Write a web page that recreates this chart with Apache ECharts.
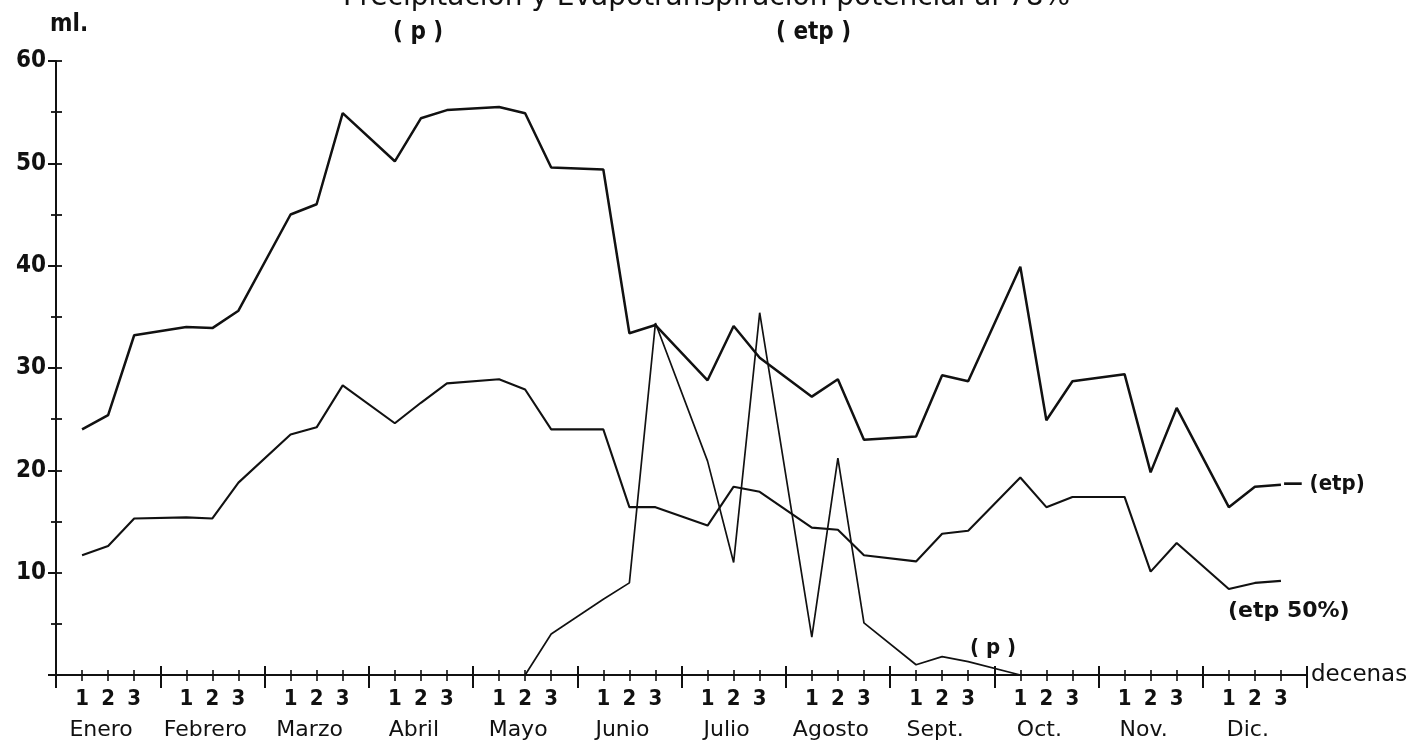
<!DOCTYPE html>
<html>
<head>
<meta charset="utf-8">
<script src="https://cdn.jsdelivr.net/npm/echarts@6/dist/echarts.min.js"></script>
<style>
html,body{margin:0;padding:0;background:#fff;}
#c{width:1412px;height:747px;}
</style>
</head>
<body>
<div id="c"></div>
<script>
// ---- data ----
const months = ['Enero','Febrero','Marzo','Abril','Mayo','Junio','Julio','Agosto','Sept.','Oct.','Nov.','Dic.'];
const decadeLabels = ['1','2','3'];
// evapotranspiración potencial (etp), one value per decade (3 per month)
const etp = [24.0,25.4,33.2, 34.0,33.9,35.6, 45.0,46.0,54.9, 50.2,54.4,55.2,
             55.5,54.9,49.6, 49.4,33.4,34.2, 28.8,34.1,31.0, 27.2,28.9,23.0,
             23.3,29.3,28.7, 39.9,24.9,28.7, 29.4,19.8,26.1, 16.4,18.4,18.6];
// etp 50%
const etp50 = [11.7,12.6,15.3, 15.4,15.3,18.8, 23.5,24.2,28.3, 24.6,26.6,28.5,
               28.9,27.9,24.0, 24.0,16.4,16.4, 14.6,18.4,17.9, 14.4,14.2,11.7,
               11.1,13.8,14.1, 19.3,16.4,17.4, 17.4,10.1,12.9, 8.4,9.0,9.2];
// precipitación (p)
const precip = [null,null,null, null,null,null, null,null,null, null,null,null,
                null,0.0,4.0, 7.4,9.0,34.4, 20.9,11.0,35.4, 3.7,21.2,5.1,
                1.0,1.8,1.3, 0.0,null,null, null,null,null, null,null,null];
const yTicks = [10,20,30,40,50,60];

// position of decade i on the axis: each month is 4 units, decades at 1,2,3
function pos(i){ return Math.floor(i/3)*4 + (i%3) + 1; }
function toPairs(arr){ return arr.map((v,i)=>[pos(i), v]); }

const FONT = '"DejaVu Sans Condensed","Liberation Sans Narrow","DejaVu Sans",sans-serif';
const WIDE = '"DejaVu Sans",sans-serif';
const INK = '#111';
const W = 'bold';

const chart = echarts.init(document.getElementById('c'), null, {renderer:'canvas'});

const grid = {left:56, right:105, top:61, bottom:72, containLabel:false};

const hidden = {show:false};
function tickAxis(interval, len, inside, width){
  return {type:'value', gridIndex:0, min:0, max:48, interval:interval, position:'bottom',
    axisLine:hidden, splitLine:hidden, axisLabel:hidden,
    axisTick:{show:true, inside:inside, length:len, lineStyle:{color:INK,width:width}}};
}
function yTickAxis(interval, len, inside, width){
  return {type:'value', gridIndex:0, min:0, max:60, interval:interval, position:'left',
    axisLine:hidden, splitLine:hidden, axisLabel:hidden,
    axisTick:{show:true, inside:inside, length:len, lineStyle:{color:INK,width:width}}};
}

const option = {
  backgroundColor:'#fff',
  animation:false,
  title:{
    text:'Precipitación y Evapotranspiración potencial al 78%',
    left:338, top:-21,
    textStyle:{fontFamily:WIDE, fontSize:28, fontWeight:'normal', color:INK}
  },
  grid:grid,
  xAxis:[
    {type:'value', gridIndex:0, min:0, max:48, interval:1, position:'bottom',
     name:'decenas', nameLocation:'end', nameGap:4,
     nameTextStyle:{fontFamily:WIDE, fontSize:23, color:INK, verticalAlign:'middle'},
     axisLine:{show:true, lineStyle:{color:INK, width:2}},
     axisTick:{show:true, length:6, lineStyle:{color:INK, width:1.6}},
     splitLine:hidden,
     axisLabel:{show:true, margin:13, fontFamily:FONT, fontSize:22, fontWeight:W, color:INK,
       formatter:function(v){ const d = Math.round(v)%4; return d===0 ? '' : decadeLabels[d-1]; }}},
    tickAxis(1, 5, true, 1.6),
    tickAxis(4, 13, false, 2),
    tickAxis(4, 9, true, 2),
    {type:'category', gridIndex:0, data:months, position:'bottom', boundaryGap:true,
     axisLine:hidden, axisTick:hidden, splitLine:hidden,
     axisLabel:{show:true, interval:0, hideOverlap:false, margin:44, fontFamily:WIDE, fontSize:22,
       color:INK, padding:[0,14,0,0]}}
  ],
  yAxis:[
    {type:'value', gridIndex:0, min:0, max:60, interval:10, position:'left',
     name:'ml.', nameLocation:'end', nameGap:24,
     nameTextStyle:{fontFamily:FONT, fontSize:24, color:INK, align:'left', padding:[0,0,0,-6], fontWeight:'bold'},
     axisLine:{show:true, lineStyle:{color:INK, width:2}},
     axisTick:{show:true, length:8, lineStyle:{color:INK, width:2}},
     splitLine:hidden,
     axisLabel:{show:true, margin:10, fontFamily:FONT, fontSize:24, fontWeight:W, color:INK,
       formatter:function(v){ return yTicks.indexOf(v)>=0 ? String(v) : ''; }}},
    yTickAxis(5, 6, true, 1.8),
    yTickAxis(5, 5, false, 1.8)
  ],
  series:[
    {name:'etp', type:'line', xAxisIndex:0, yAxisIndex:0, data:toPairs(etp),
     symbol:'none', lineStyle:{color:INK, width:2.5},
     endLabel:{show:true, formatter:'— (etp)', fontFamily:FONT, fontSize:22, fontWeight:W, color:INK, distance:2}},
    {name:'etp 50%', type:'line', xAxisIndex:0, yAxisIndex:0, data:toPairs(etp50),
     symbol:'none', lineStyle:{color:INK, width:2.1}},
    {name:'p', type:'line', xAxisIndex:0, yAxisIndex:0, data:toPairs(precip),
     symbol:'none', connectNulls:false, lineStyle:{color:INK, width:1.7}}
  ],
  graphic:[
    {type:'text', left:393, top:21, style:{text:'( p )', font:'bold 24px '+FONT, fill:INK}},
    {type:'text', left:776, top:21, style:{text:'( etp )', font:'bold 24px '+FONT, fill:INK}},
    {type:'text', left:970, top:637, style:{text:'( p )', font:'bold 22px '+FONT, fill:INK}},
    {type:'text', left:1228, top:600, style:{text:'(etp 50%)', font:'bold 22px '+WIDE, fill:INK}}
  ]
};
chart.setOption(option);
</script>
</body>
</html>
